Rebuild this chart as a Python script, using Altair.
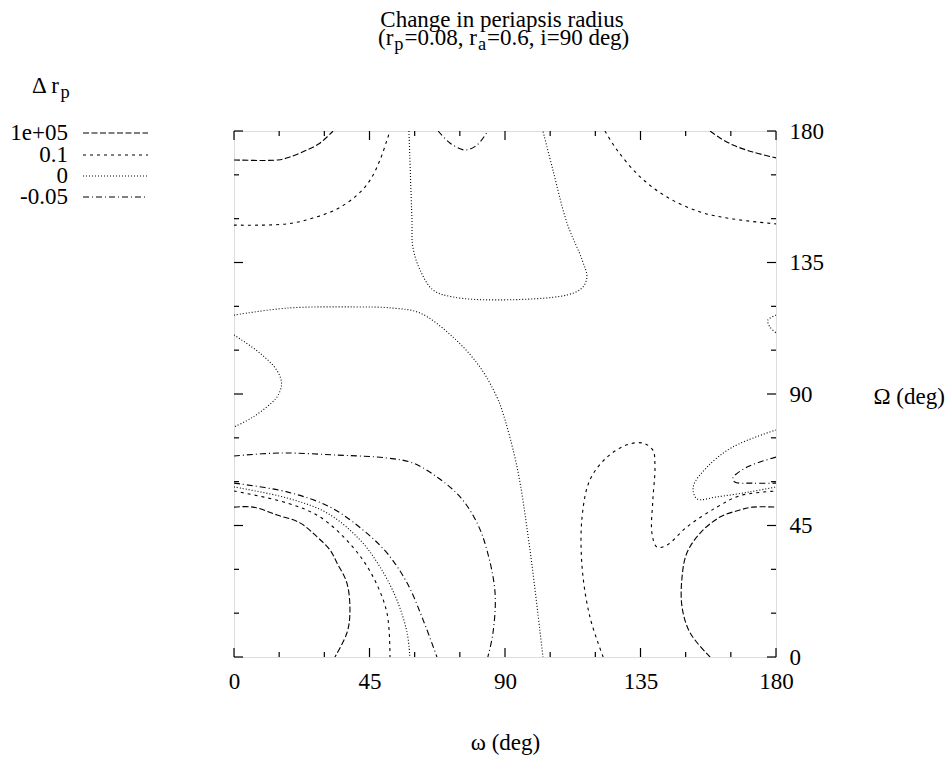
import altair as alt
import pandas as pd

# ---------------- data ----------------
levels = ["1e+05", "0.1", "0", "-0.05"]
level_dashes = [[6, 2.5], [3, 4], [1, 2], [6, 3, 1, 3]]

# contour paths: omega (deg), Omega (deg)
c1_level = "1e+05"
c1_w = [0, 14.6, 18.6, 24.2, 28.6, 32.9]
c1_W = [170.1, 170.1, 171.1, 173.5, 175.9, 180]

c2_level = "0.1"
c2_w = [0, 17.6, 26.2, 34.2, 40.9, 45.2, 48.5, 50.8, 51.8]
c2_W = [147.8, 148.2, 150.2, 153.3, 158.1, 163.2, 170.1, 176.9, 180]

c3_level = "0"
c3_w = [58.1, 59.1, 59.4, 61.8, 66.1, 72.7, 88.3, 110.6, 115.6, 117.2, 115.6, 110.6, 105.9, 102.6]
c3_W = [180, 149.6, 140.3, 132.4, 125.6, 123.2, 122.2, 123.9, 126.3, 130.0, 135.9, 148.5, 166.7, 180]

c4_level = "0"
c4_w = [0, 17.6, 39.5, 52.8, 61.8, 72.7, 81.7, 87.3, 89.0, 94.0, 98.3, 102.6]
c4_W = [117.0, 119.4, 119.8, 119.4, 117.7, 109.5, 99.2, 89.0, 84.5, 65.0, 36.6, 0]

c5_level = "0"
c5_w = [0, 8.6, 14.3, 15.8, 14.6, 12.5, 6.3, 0]
c5_W = [110.2, 104.0, 98.0, 93.5, 89.5, 87.0, 82.1, 78.7]

c6_level = "-0.05"
c6_w = [0, 15.3, 34.2, 50.8, 59.4, 67.4, 75.1, 80.7, 84.0, 86.7, 86.0, 84.3]
c6_W = [68.8, 69.8, 69.1, 68.1, 66.4, 61.6, 54.8, 45.9, 36.6, 21.9, 8.2, 0]

c7_level = "-0.05"
c7_w = [0, 17.6, 31.9, 42.8, 50.8, 57.5, 62.8, 67.4]
c7_W = [59.5, 56.5, 51.3, 43.5, 35.6, 25.3, 12.7, 0]

c8_level = "0"
c8_w = [0, 17.6, 30.9, 41.9, 48.5, 54.1, 57.5, 58.4]
c8_W = [58.2, 54.4, 49.3, 40.0, 30.8, 19.5, 8.2, 0]

c9_level = "0.1"
c9_w = [0, 17.6, 28.6, 39.5, 46.2, 50.8, 51.8]
c9_W = [56.8, 52.7, 47.9, 37.6, 27.4, 15.1, 0]

c10_level = "1e+05"
c10_w = [0, 6.3, 14.3, 21.9, 27.6, 31.9, 34.2, 37.5, 38.5, 37.5, 33.5]
c10_W = [51.3, 51.3, 48.6, 45.9, 41.1, 36.6, 32.2, 25.3, 15.1, 8.2, 0]

c11_level = "0.1"
c11_w = [122.6, 118.2, 115.6, 115.6, 118.2, 123.9, 130.5, 135.8, 139.1, 139.8, 139.1, 138.8, 140.5, 143.8, 150.4, 160.4, 168.0, 180]
c11_W = [0, 13.7, 30.8, 47.9, 60.6, 68.4, 72.6, 73.2, 70.8, 65.0, 53.7, 42.4, 37.6, 38.3, 44.5, 51.3, 55.2, 56.8]

c12_level = "1e+05"
c12_w = [158.1, 151.5, 148.8, 148.8, 150.4, 154.8, 161.4, 168.0, 172.3, 180]
c12_W = [0, 8.2, 17.1, 27.4, 35.6, 42.4, 47.9, 50.3, 51.3, 51.3]

c13_level = "0"
c13_w = [180, 165.7, 157.1, 152.5, 153.8, 160.4, 171.3, 180]
c13_W = [77.7, 71.9, 65.0, 58.2, 54.1, 54.8, 56.5, 58.2]

c14_level = "-0.05"
c14_w = [180, 170.4, 165.7, 166.3, 172.3, 180]
c14_W = [68.4, 65.0, 61.3, 59.9, 59.5, 59.5]

c15_level = "1e+05"
c15_w = [158.1, 161.4, 165.7, 172.3, 180]
c15_W = [180, 177.6, 175.2, 172.8, 170.8]

c16_level = "0.1"
c16_w = [123.2, 127.2, 134.9, 143.8, 154.8, 165.7, 180]
c16_W = [180, 173.5, 164.3, 157.4, 152.3, 149.9, 148.2]

c17_level = "0"
c17_w = [180, 177.3, 178.0, 180]
c17_W = [117.0, 115.3, 112.9, 110.9]

c18_level = "-0.05"
c18_w = [67.8, 71.7, 76.7, 80.7, 84.3]
c18_W = [180, 175.9, 173.5, 175.2, 180]

contours = [
    (c1_level, c1_w, c1_W), (c2_level, c2_w, c2_W), (c3_level, c3_w, c3_W),
    (c4_level, c4_w, c4_W), (c5_level, c5_w, c5_W), (c6_level, c6_w, c6_W),
    (c7_level, c7_w, c7_W), (c8_level, c8_w, c8_W), (c9_level, c9_w, c9_W),
    (c10_level, c10_w, c10_W), (c11_level, c11_w, c11_W), (c12_level, c12_w, c12_W),
    (c13_level, c13_w, c13_W), (c14_level, c14_w, c14_W), (c15_level, c15_w, c15_W),
    (c16_level, c16_w, c16_W), (c17_level, c17_w, c17_W), (c18_level, c18_w, c18_W),
]

tick_labels = [0, 45, 90, 135, 180]
major_ticks = [0, 45, 90, 135, 180]
minor_ticks = [15, 30, 60, 75, 105, 120, 150, 165]

title_line1 = "Change in periapsis radius"
legend_title = ["Δ r", "p"]

# ---------------- build table ----------------
rows = []
for pid, (lev, ws, Ws) in enumerate(contours):
    for i, (a, b) in enumerate(zip(ws, Ws)):
        rows.append({"omega": a, "Omega": b, "level": lev, "path": pid, "idx": i})
df = pd.DataFrame(rows)

W, H = 542, 526
FONT = "Liberation Serif, Times New Roman, Times, serif"
FS = 23
SUB = 18.4

xs = alt.Scale(domain=[0, 180], nice=False, zero=False)
ys = alt.Scale(domain=[0, 180], nice=False, zero=False)

x_axis = alt.Axis(
    orient="bottom", values=tick_labels, ticks=False, tickSize=0, domain=False,
    grid=False, labelFont=FONT, labelFontSize=FS, labelColor="black",
    labelPadding=13, labelFlush=False, labelOverlap=False,
    title="ω (deg)", titleFont=FONT, titleFontSize=FS, titleFontWeight="normal",
    titleColor="black", titleX=W / 2, titleY=92, titleAlign="center",
    titleBaseline="alphabetic")
y_axis = alt.Axis(
    orient="right", values=tick_labels, ticks=False, tickSize=0, domain=False,
    grid=False, labelFont=FONT, labelFontSize=FS, labelColor="black",
    labelPadding=13, labelFlush=False, labelOverlap=False,
    title="Ω (deg)", titleFont=FONT, titleFontSize=FS, titleFontWeight="normal",
    titleColor="black", titleAngle=0, titleX=97, titleY=272, titleAlign="left",
    titleBaseline="alphabetic")

contour_layer = alt.Chart(df).mark_line(
    interpolate="catmull-rom", color="black", strokeWidth=1.1, clip=True
).encode(
    x=alt.X("omega:Q", scale=xs, axis=x_axis),
    y=alt.Y("Omega:Q", scale=ys, axis=y_axis),
    detail="path:N",
    order="idx:Q",
    strokeDash=alt.StrokeDash("level:N", scale=alt.Scale(domain=levels, range=level_dashes), legend=None),
)

layers = [contour_layer]

# tick marks (inward, mirrored on all four sides)
for vals, ln in [(major_ticks, 9), (minor_ticks, 5)]:
    tdf = pd.DataFrame({"v": vals})
    base = alt.Chart(tdf).mark_rule(color="black", strokeWidth=1.2)
    layers.append(base.encode(x=alt.X("v:Q", scale=xs, axis=x_axis), y=alt.value(H), y2=alt.value(H - ln)))
    layers.append(base.encode(x=alt.X("v:Q", scale=xs, axis=x_axis), y=alt.value(0), y2=alt.value(ln)))
    layers.append(base.encode(y=alt.Y("v:Q", scale=ys, axis=y_axis), x=alt.value(0), x2=alt.value(ln)))
    layers.append(base.encode(y=alt.Y("v:Q", scale=ys, axis=y_axis), x=alt.value(W), x2=alt.value(W - ln)))


def txt(s, x, y, size=FS, align="left", baseline="alphabetic"):
    return alt.Chart(pd.DataFrame({"t": [s]})).mark_text(
        font=FONT, fontSize=size, align=align, baseline=baseline, color="black"
    ).encode(x=alt.value(x), y=alt.value(y), text="t:N")


# title
layers.append(txt(title_line1, 268, -104, align="center"))
title2_pieces = [("(r", FS, 0), ("p", SUB, 5), ("=0.08, r", FS, 0), ("a", SUB, 5), ("=0.6, i=90 deg)", FS, 0)]
widths = {"(r": 0.666, "p": 0.5, "=0.08, r": 3.147, "a": 0.444, "=0.6, i=90 deg)": 6.183}
xpos = 144
for s, size, dy in title2_pieces:
    layers.append(txt(s, xpos, -86 + dy, size=size))
    xpos += widths[s] * size + 1

# legend
layers.append(txt(legend_title[0], -202, -38))
layers.append(txt(legend_title[1], -201 + 1.195 * FS, -33, size=SUB))
legend_rows = [2, 24, 45, 66]
for lev, dash, ry in zip(levels, level_dashes, legend_rows):
    layers.append(txt(lev, -166, ry, align="right", baseline="middle"))
    layers.append(alt.Chart(pd.DataFrame({"t": [lev]})).mark_rule(
        color="black", strokeWidth=1, strokeDash=dash
    ).encode(x=alt.value(-151), x2=alt.value(-86), y=alt.value(ry)))

chart = alt.layer(*layers).properties(
    width=W, height=H,
    padding={"left": 234, "top": 131, "right": 176, "bottom": 103},
    autosize=alt.AutoSizeParams(type="none"),
).configure_view(stroke="black", strokeWidth=1.5).configure(background="white")

chart.save("out.html", embed_options={"renderer": "svg", "actions": False})
